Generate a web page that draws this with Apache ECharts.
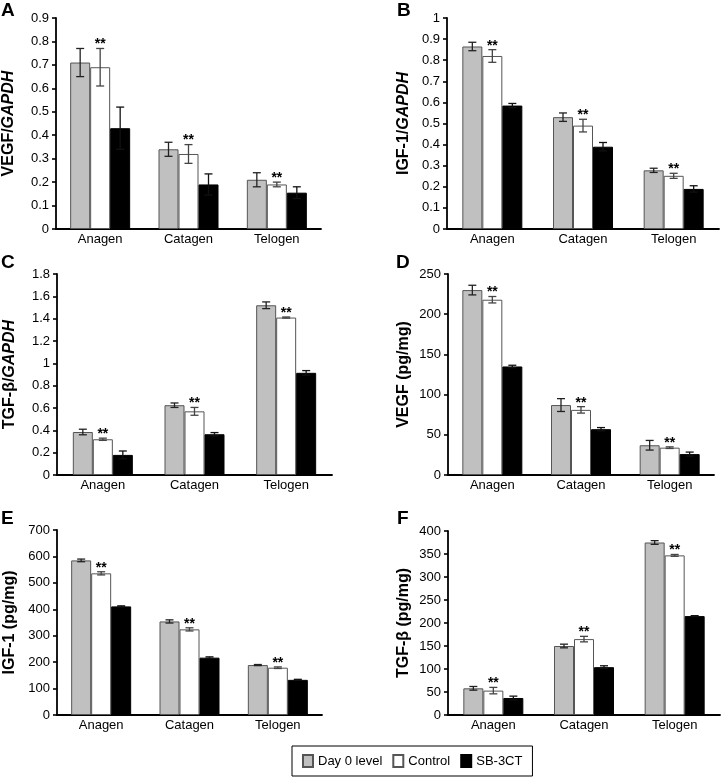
<!DOCTYPE html>
<html>
<head>
<meta charset="utf-8">
<script src="https://cdn.jsdelivr.net/npm/echarts@6/dist/echarts.min.js"></script>
<style>html,body{margin:0;padding:0;background:#fff;}#chart{width:722px;height:777px;}</style>
</head>
<body>
<div id="chart"></div>
<script>
const categories = ['Anagen', 'Catagen', 'Telogen'];
const seriesNames = ['Day 0 level', 'Control', 'SB-3CT'];

// Panel A: VEGF/GAPDH
const aDay0 = [0.71, 0.34, 0.21];      const aDay0Err = [0.06, 0.03, 0.03];
const aControl = [0.69, 0.32, 0.19];   const aControlErr = [0.08, 0.04, 0.01];
const aSB = [0.43, 0.19, 0.155];       const aSBErr = [0.09, 0.045, 0.025];
// Panel B: IGF-1/GAPDH
const bDay0 = [0.865, 0.53, 0.278];    const bDay0Err = [0.02, 0.02, 0.01];
const bControl = [0.82, 0.49, 0.252];  const bControlErr = [0.03, 0.03, 0.012];
const bSB = [0.585, 0.39, 0.19];       const bSBErr = [0.01, 0.02, 0.015];
// Panel C: TGF-β/GAPDH
const cDay0 = [0.385, 0.625, 1.52];    const cDay0Err = [0.025, 0.02, 0.03];
const cControl = [0.32, 0.57, 1.41];   const cControlErr = [0.01, 0.035, 0.005];
const cSB = [0.18, 0.365, 0.915];      const cSBErr = [0.035, 0.015, 0.02];
// Panel D: VEGF (pg/mg)
const dDay0 = [230, 87, 37];           const dDay0Err = [6, 8, 6];
const dControl = [218, 81, 34];        const dControlErr = [4, 4, 1];
const dSB = [135, 57, 26];             const dSBErr = [1.5, 2, 2.5];
// Panel E: IGF-1 (pg/mg)
const eDay0 = [585, 354, 189];         const eDay0Err = [5, 6, 2];
const eControl = [536, 324, 179];      const eControlErr = [6, 6, 3];
const eSB = [411, 217, 133];           const eSBErr = [2, 3, 2];
// Panel F: TGF-β (pg/mg)
const fDay0 = [58, 150, 375];          const fDay0Err = [4, 4, 4];
const fControl = [53, 165, 347];       const fControlErr = [7, 6, 2];
const fSB = [37, 104, 215];            const fSBErr = [4, 3, 1];

// Axis settings (max, interval)
const yMax = [0.9, 1, 1.8, 250, 700, 400];
const yInterval = [0.1, 0.1, 0.2, 50, 100, 50];
const yNames = ['VEGF/{i|GAPDH}', 'IGF-1/{i|GAPDH}', 'TGF-β/{i|GAPDH}', 'VEGF (pg/mg)', 'IGF-1 (pg/mg)', 'TGF-β (pg/mg)'];
const panelLetters = ['A', 'B', 'C', 'D', 'E', 'F'];

const panels = [
  [aDay0, aControl, aSB, aDay0Err, aControlErr, aSBErr],
  [bDay0, bControl, bSB, bDay0Err, bControlErr, bSBErr],
  [cDay0, cControl, cSB, cDay0Err, cControlErr, cSBErr],
  [dDay0, dControl, dSB, dDay0Err, dControlErr, dSBErr],
  [eDay0, eControl, eSB, eDay0Err, eControlErr, eSBErr],
  [fDay0, fControl, fSB, fDay0Err, fControlErr, fSBErr]
];

const grids = [
  {left: 56, top: 18, width: 265, height: 211},
  {left: 447, top: 18, width: 272, height: 211},
  {left: 57, top: 274, width: 275, height: 201},
  {left: 448, top: 274, width: 266, height: 201},
  {left: 57, top: 530, width: 265, height: 185},
  {left: 448, top: 531, width: 272, height: 184}
];
const nameGaps = [39, 35, 39, 36, 39, 36];
const letterPos = [[1, 1], [397, 1], [1, 253], [396, 253], [1, 509], [397, 509]];

const FONT = '"Liberation Sans", Arial, sans-serif';
const barStyles = [
  {color: '#c0c0c0', borderColor: '#555', borderWidth: 1},
  {color: '#ffffff', borderColor: '#555', borderWidth: 1},
  {color: '#000000', borderColor: '#000', borderWidth: 1}
];
const errColors = ['#222', '#444', '#111'];
const offsets = [-20, 0, 20];

function errRender(offset, color) {
  return function (params, api) {
    const idx = api.value(0), m = api.value(1), e = api.value(2);
    const x = api.coord([idx, m])[0] + offset;
    const yT = api.coord([idx, m + e])[1];
    const yB = api.coord([idx, m - e])[1];
    const c = 4;
    const st = {stroke: color, lineWidth: 1.3};
    return {type: 'group', children: [
      {type: 'line', shape: {x1: x, y1: yT, x2: x, y2: yB}, style: st},
      {type: 'line', shape: {x1: x - c, y1: yT, x2: x + c, y2: yT}, style: st},
      {type: 'line', shape: {x1: x - c, y1: yB, x2: x + c, y2: yB}, style: st}
    ]};
  };
}
function starRender(params, api) {
  const p = api.coord([api.value(0), api.value(1)]);
  return {type: 'text', x: p[0], y: p[1] - 4,
    style: {text: '**', fontSize: 14, fontWeight: 'bold', fontFamily: FONT, fill: '#000', align: 'center', verticalAlign: 'middle'}};
}

const xAxes = [], yAxes = [], series = [], graphics = [];
panels.forEach((p, k) => {
  xAxes.push({
    type: 'category', gridIndex: k, data: categories, boundaryGap: true,
    axisLine: {lineStyle: {color: '#000', width: 1.8}},
    axisTick: {inside: true, length: 5, lineStyle: {color: '#000', width: 1.8}},
    axisLabel: {color: '#000', fontSize: 13, fontFamily: FONT, margin: 4}
  });
  yAxes.push({
    type: 'value', gridIndex: k, min: 0, max: yMax[k], interval: yInterval[k],
    name: yNames[k], nameLocation: 'middle', nameGap: nameGaps[k],
    nameTextStyle: {color: '#000', fontSize: 16, fontWeight: 'bold', fontFamily: FONT,
      rich: {i: {fontStyle: 'italic', fontWeight: 'bold', fontSize: 16, fontFamily: FONT, color: '#000'}}},
    axisLine: {show: true, lineStyle: {color: '#000', width: 1.8}},
    axisTick: {show: true, length: 4, lineStyle: {color: '#000', width: 1.6}},
    axisLabel: {color: '#000', fontSize: 13, fontFamily: FONT, margin: 7},
    splitLine: {show: false}
  });
  for (let s = 0; s < 3; s++) {
    series.push({
      type: 'bar', name: seriesNames[s], xAxisIndex: k, yAxisIndex: k,
      data: p[s], barWidth: 20, barGap: '0%', itemStyle: barStyles[s],
      emphasis: {disabled: true}, silent: true
    });
  }
  for (let s = 0; s < 3; s++) {
    series.push({
      type: 'custom', xAxisIndex: k, yAxisIndex: k, silent: true,
      data: p[s].map((v, i) => [i, v, p[s + 3][i]]),
      encode: {x: 0, y: 1}, renderItem: errRender(offsets[s], errColors[s]), z: 5
    });
  }
  series.push({
    type: 'custom', xAxisIndex: k, yAxisIndex: k, silent: true,
    data: p[1].map((v, i) => [i, v + p[4][i]]),
    encode: {x: 0, y: 1}, renderItem: starRender, z: 6
  });
  graphics.push({type: 'text', left: letterPos[k][0], top: letterPos[k][1],
    style: {text: panelLetters[k], fontSize: 19, fontWeight: 'bold', fontFamily: FONT, fill: '#000'}});
});

const chart = echarts.init(document.getElementById('chart'), null, {renderer: 'canvas'});
chart.setOption({
  animation: false,
  backgroundColor: '#fff',
  grid: grids,
  xAxis: xAxes,
  yAxis: yAxes,
  series: series,
  graphic: graphics,
  legend: {
    data: seriesNames, left: 292, top: 746, padding: [8, 10, 8, 10],
    borderColor: '#000', borderWidth: 1, itemWidth: 10, itemHeight: 12, itemGap: 10,
    icon: 'rect', selectedMode: false,
    textStyle: {color: '#000', fontSize: 13, fontFamily: FONT}
  }
});
</script>
</body>
</html>
